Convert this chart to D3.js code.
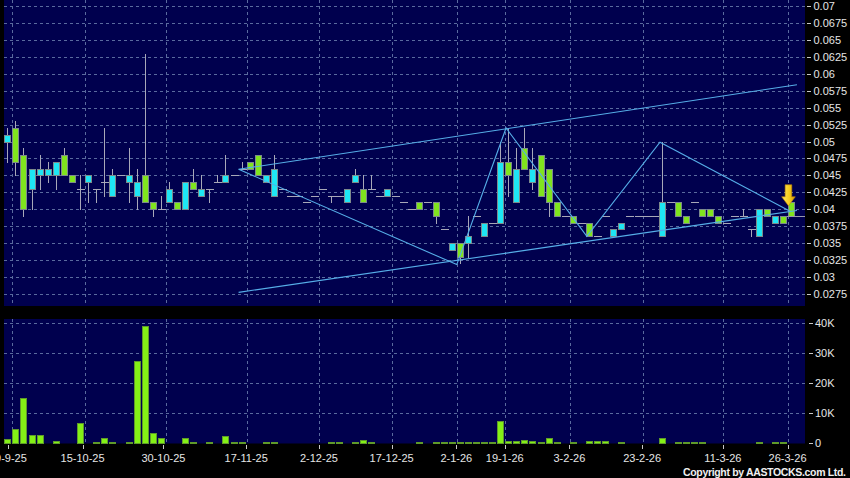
<!DOCTYPE html>
<html><head><meta charset="utf-8">
<script src="https://cdn.jsdelivr.net/npm/d3@7"></script>
<style>body{margin:0;background:#000;}svg{display:block;}</style>
</head><body>
<svg id="chart" width="850" height="478"></svg>
<script>
// ---------- DATA ----------
const opens = [
 .050,.052,.048,.043,.045,.045,.045,.048,.045,.043,
 .044,.043,.044,.042,.045,.044,.042,.045,.041,.040,
 .041,.041,.040,.044,.042,.043,.044,.044,.045,.046,
 .047,.048,.044,.042,.043,.042,.042,.041,.042,.043,
 .042,.042,.041,.044,.043,.043,.042,.042,.042,.041,
 .040,.041,.041,.041,.037,.034,.035,.035,.039,.036,
 .038,.038,.047,.041,.049,.044,.048,.046,.041,.039,
 .039,.038,.038,.036,.039,.036,.037,.039,.039,.039,
 .039,.036,.041,.041,.039,.041,.040,.040,.039,.038,
 .039,.039,.037,.036,.040,.038,.039,.041];
const highs = [
 .052,.053,.049,.046,.048,.047,.047,.049,.045,.045,
 .045,.043,.052,.046,.045,.049,.046,.063,.041,.042,
 .044,.041,.044,.046,.045,.043,.045,.048,.045,.047,
 .047,.048,.045,.048,.043,.042,.042,.041,.042,.043,
 .042,.042,.043,.046,.045,.045,.042,.043,.042,.041,
 .040,.041,.041,.041,.037,.035,.035,.039,.039,.038,
 .038,.050,.052,.049,.052,.049,.048,.046,.041,.039,
 .039,.038,.038,.036,.039,.037,.038,.039,.039,.039,
 .039,.050,.041,.041,.039,.041,.040,.040,.039,.038,
 .039,.040,.037,.040,.040,.039,.039,.041];
const lows = [
 .047,.045,.039,.040,.043,.044,.043,.045,.044,.040,
 .041,.041,.042,.042,.045,.041,.040,.041,.039,.040,
 .041,.040,.040,.043,.042,.041,.044,.044,.045,.046,
 .046,.045,.044,.042,.043,.042,.042,.041,.042,.043,
 .041,.042,.041,.044,.041,.043,.042,.042,.042,.041,
 .040,.040,.041,.038,.037,.034,.032,.033,.039,.036,
 .038,.038,.042,.041,.046,.043,.042,.039,.039,.039,
 .038,.038,.036,.036,.039,.036,.037,.039,.039,.039,
 .039,.036,.041,.039,.038,.041,.039,.039,.038,.038,
 .039,.039,.036,.036,.039,.038,.038,.039];
const closes = [
 .051,.047,.040,.046,.046,.046,.047,.045,.044,.043,
 .045,.043,.044,.045,.045,.045,.044,.041,.040,.040,
 .043,.040,.044,.043,.043,.043,.044,.045,.045,.046,
 .046,.045,.045,.046,.043,.042,.042,.041,.042,.043,
 .042,.042,.043,.045,.041,.043,.042,.043,.042,.041,
 .040,.040,.041,.039,.037,.035,.033,.036,.039,.038,
 .038,.047,.045,.046,.046,.046,.042,.041,.039,.039,
 .038,.038,.036,.036,.039,.037,.038,.039,.039,.039,
 .039,.041,.041,.039,.038,.041,.039,.039,.038,.038,
 .039,.039,.037,.040,.039,.039,.038,.039];
const volumes = [
 1400,4900,15000,2800,2800,0,800,0,0,6700,
 0,300,1700,100,0,400,27400,39200,3600,1900,
 0,0,1700,400,0,100,0,2600,200,400,
 0,0,100,400,0,0,0,0,0,0,
 400,100,0,100,1000,100,0,0,0,0,
 0,400,0,400,100,100,600,400,100,400,
 100,7400,900,900,1200,800,300,1800,100,0,
 400,0,800,800,800,0,100,0,0,0,
 0,1800,0,400,100,100,100,0,0,0,
 0,0,0,100,0,100,100,0];
const dateLabels = ["29-9-25","15-10-25","30-10-25","17-11-25","2-12-25","17-12-25","2-1-26","19-1-26","3-2-26","23-2-26","11-3-26","26-3-26"];
const dateSlots  = [1,10,20,30,39,48,56,62,70,79,89,97];
const priceTickLabels = ["0.0275","0.03","0.0325","0.035","0.0375","0.04","0.0425","0.045","0.0475","0.05","0.0525","0.055","0.0575","0.06","0.0625","0.065","0.0675","0.07"];
const volumeTickValues = [0,10000,20000,30000,40000];
const volumeTickLabels = ["0","10K","20K","30K","40K"];
// trend lines drawn on the chart: [bar position, price]
const zigzag = [[29,0.0459],[56,0.0318],[62.1,0.0520],[72.1,0.0360],[81.15,0.0499],[97.25,0.0397]];
const channelUpper = [[29,0.0459],[98.1,0.0584]];
const channelLower = [[29,0.0277],[98.1,0.0398]];
const arrowSlot = 97, arrowPrice = 0.0405;
const lastPrice = 0.039;

// ---------- SCALES ----------
const svg = d3.select("#chart");
const W = 850, H = 478;
const P = {x0:4, x1:805, y0:0, y1:306};
const V = {x0:4, x1:805, y0:319, y1:443.5};
const x = d3.scaleLinear().domain([0,99]).range([4.3, 4.3 + 8.08*99]);
const yP = d3.scaleLinear().domain([0.0275,0.07]).range([293.7,6.3]);
const yV = d3.scaleLinear().domain([0,40000]).range([443.3,323.3]);

svg.append("rect").attr("width",W).attr("height",H).attr("fill","#000");
const defs = svg.append("defs");
defs.append("clipPath").attr("id","clipP").append("rect")
  .attr("x",P.x0).attr("y",P.y0).attr("width",P.x1-P.x0).attr("height",P.y1-P.y0);
const grad = defs.append("linearGradient").attr("id","arrowGrad").attr("x1","0").attr("x2","1").attr("y1","0").attr("y2","0");
grad.append("stop").attr("offset","0").attr("stop-color","#ffe866");
grad.append("stop").attr("offset","0.55").attr("stop-color","#f6cc1c");
grad.append("stop").attr("offset","1").attr("stop-color","#d89a08");

const panelFill = "#00004e";
svg.append("rect").attr("x",P.x0).attr("y",P.y0).attr("width",P.x1-P.x0).attr("height",P.y1-P.y0).attr("fill",panelFill);
svg.append("rect").attr("x",V.x0).attr("y",V.y0).attr("width",V.x1-V.x0).attr("height",V.y1-V.y0).attr("fill",panelFill);

const gridCol = "#5a6a9e";
const px = v => Math.round(v) + 0.5;
svg.append("g").selectAll("line").data(priceTickLabels.map(Number)).join("line")
  .attr("x1",P.x0).attr("x2",P.x1).attr("y1",d=>px(yP(d))).attr("y2",d=>px(yP(d)))
  .attr("stroke",gridCol).attr("stroke-dasharray","3,3");
svg.append("g").selectAll("line").data(volumeTickValues.filter(v=>v>0)).join("line")
  .attr("x1",V.x0).attr("x2",V.x1).attr("y1",d=>px(yV(d))).attr("y2",d=>px(yV(d)))
  .attr("stroke",gridCol).attr("stroke-dasharray","3,3");
const vg = svg.append("g");
vg.selectAll("line.p").data(dateSlots).join("line").attr("class","p")
  .attr("x1",d=>px(x(d))).attr("x2",d=>px(x(d))).attr("y1",P.y0).attr("y2",P.y1)
  .attr("stroke",gridCol).attr("stroke-dasharray","3,3");
vg.selectAll("line.v").data(dateSlots).join("line").attr("class","v")
  .attr("x1",d=>px(x(d))).attr("x2",d=>px(x(d))).attr("y1",V.y0).attr("y2",V.y1)
  .attr("stroke",gridCol).attr("stroke-dasharray","3,3");

// ---------- CANDLES ----------
const upFill = "#1ee6f4", downFill = "#80e41e", edge = "#7c8a8c", wickCol = "#a8a8b8";
const bars = d3.range(opens.length).map(i => ({i, o:opens[i], h:highs[i], l:lows[i], c:closes[i], v:volumes[i]}));
const cg = svg.append("g").attr("clip-path","url(#clipP)");
bars.forEach(b => {
  const bx = Math.round(x(b.i));
  if (b.h > b.l) {
    cg.append("line").attr("x1",bx+3.5).attr("x2",bx+3.5)
      .attr("y1",Math.round(yP(b.h))).attr("y2",Math.round(yP(b.l))+1)
      .attr("stroke",wickCol);
  }
  if (b.o === b.c) {
    cg.append("line").attr("x1",bx).attr("x2",bx+8)
      .attr("y1",px(yP(b.o))).attr("y2",px(yP(b.o))).attr("stroke",wickCol);
  } else {
    const t = px(yP(Math.max(b.o,b.c))), btm = px(yP(Math.min(b.o,b.c)));
    cg.append("rect").attr("x",bx+0.5).attr("y",t).attr("width",6).attr("height",btm-t)
      .attr("fill", b.c > b.o ? upFill : downFill).attr("stroke",edge);
  }
});

cg.append("line").attr("x1",Math.round(x(97))-1).attr("x2",P.x1)
  .attr("y1",px(yP(lastPrice))).attr("y2",px(yP(lastPrice))).attr("stroke","#9a9aaa");

// ---------- TREND LINES ----------
const line = d3.line().x(d=>x(d[0])).y(d=>yP(d[1]));
const tl = svg.append("g").attr("clip-path","url(#clipP)").attr("fill","none").attr("stroke","#56aee8").attr("stroke-width",1.1);
[zigzag, channelUpper, channelLower].forEach(d => tl.append("path").attr("d",line(d)));

const ax = x(arrowSlot) + 0.4, tip = yP(arrowPrice);
svg.append("path")
  .attr("d",`M${ax-3.3},${tip-21} L${ax+3.3},${tip-21} L${ax+3.3},${tip-9} L${ax+6.8},${tip-9} L${ax},${tip} L${ax-6.8},${tip-9} L${ax-3.3},${tip-9} Z`)
  .attr("fill","url(#arrowGrad)").attr("stroke","#c88a00").attr("stroke-width",0.6);

// ---------- VOLUME ----------
svg.append("g").selectAll("rect").data(bars.filter(b=>b.v>0)).join("rect")
  .attr("x",b=>Math.round(x(b.i))+0.5)
  .attr("y",b=>Math.min(px(yV(b.v)), 442.5))
  .attr("width",6)
  .attr("height",b=>443.5 - Math.min(px(yV(b.v)), 442.5))
  .attr("fill","#84f016").attr("stroke","#5f9a2a");

// ---------- AXES TEXT ----------
const font = "'Liberation Sans', Arial, sans-serif";
const txt = "#e6e6e6";
const pa = svg.append("g");
priceTickLabels.forEach(s => {
  const yy = yP(+s);
  pa.append("line").attr("x1",807).attr("x2",811).attr("y1",px(yy)).attr("y2",px(yy)).attr("stroke","#c8c8c8");
  pa.append("text").attr("x",813.5).attr("y",yy+4).attr("fill",txt).attr("font-family",font).attr("font-size",11).text(s);
});
volumeTickValues.forEach((v,k) => {
  const yy = yV(v);
  pa.append("line").attr("x1",809).attr("x2",813).attr("y1",px(yy)).attr("y2",px(yy)).attr("stroke","#c8c8c8");
  pa.append("text").attr("x",815).attr("y",yy+4).attr("fill",txt).attr("font-family",font).attr("font-size",11).text(volumeTickLabels[k]);
});
dateSlots.forEach((k,j) => {
  const shift = k <= 1 ? -4.5 : (k <= 20 ? -2.5 : -0.5);
  const xx = x(k) + shift;
  pa.append("line").attr("x1",px(xx)).attr("x2",px(xx)).attr("y1",445).attr("y2",449).attr("stroke","#c8c8c8");
  pa.append("text").attr("x",xx).attr("y",462).attr("text-anchor","middle").attr("fill",txt)
    .attr("font-family",font).attr("font-size",11).text(dateLabels[j]);
});
svg.append("text").attr("x",683).attr("y",475.5).attr("fill","#f0f0f0").attr("font-family",font)
  .attr("font-size",10.5).attr("font-weight","bold").attr("textLength",163).attr("lengthAdjust","spacing")
  .text("Copyright by AASTOCKS.com Ltd.");
</script>
</body></html>
